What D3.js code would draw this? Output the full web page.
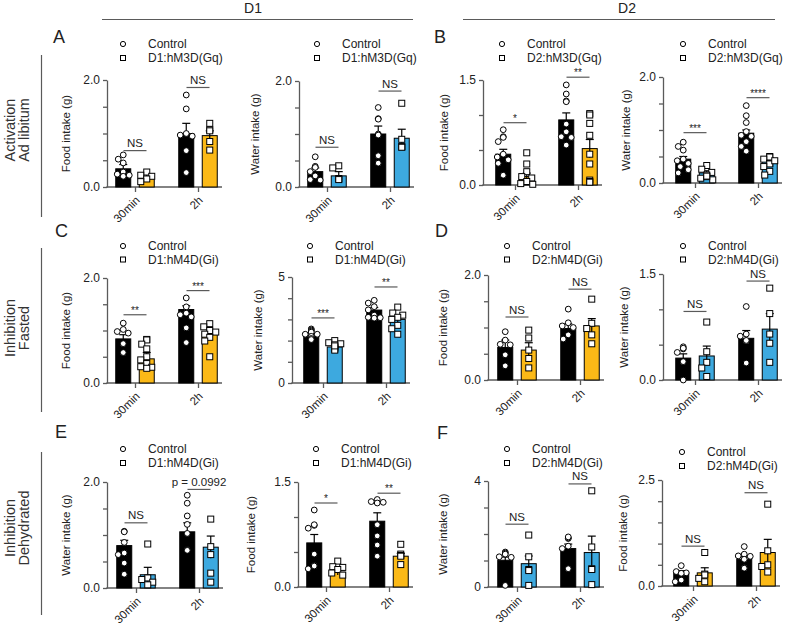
<!DOCTYPE html>
<html><head><meta charset="utf-8">
<script src="https://cdn.jsdelivr.net/npm/d3@7"></script>
<style>body{margin:0;background:#fff}svg{display:block;font-family:"Liberation Sans",Arial,Helvetica,sans-serif}</style>
</head><body><svg id="fig" width="787" height="627"></svg>
<script>
// ---------------- DATA ----------------
const timepoints = ["30min", "2h"];
const panelLetters = ["A", "B", "C", "D", "E", "F"];
const columnHeaders = ["D1", "D2"];
const rowLabels = [["Activation", "Ad libitum"], ["Inhibition", "Fasted"], ["Inhibition", "Dehydrated"]];
const controlName = "Control";
const treatNames = ["D1:hM3D(Gq)", "D1:hM3D(Gq)", "D2:hM3D(Gq)", "D2:hM3D(Gq)",
                    "D1:hM4D(Gi)", "D1:hM4D(Gi)", "D2:hM4D(Gi)", "D2:hM4D(Gi)",
                    "D1:hM4D(Gi)", "D1:hM4D(Gi)", "D2:hM4D(Gi)", "D2:hM4D(Gi)"];
const yLabels = ["Food intake (g)", "Water intake (g)", "Food intake (g)", "Water intake (g)",
                 "Food intake (g)", "Water intake (g)", "Food intake (g)", "Water intake (g)",
                 "Water intake (g)", "Food intake (g)", "Water intake (g)", "Food intake (g)"];
const yMax = [2, 2, 1.5, 2, 2, 5, 2, 1.5, 2, 1.5, 4, 2.5];
const yTickStep = [0.5, 0.5, 0.5, 0.5, 0.5, 1, 0.5, 0.5, 0.5, 0.5, 1, 0.5];
// bar means: [control 30min, treated 30min, control 2h, treated 2h]
const means = [
  [0.34, 0.20, 1.00, 0.96], [0.29, 0.21, 1.00, 0.92], [0.44, 0.12, 0.93, 0.52], [0.45, 0.19, 0.94, 0.42],
  [0.84, 0.46, 1.40, 0.95], [2.26, 1.70, 3.44, 3.00], [0.62, 0.57, 0.98, 1.03], [0.31, 0.34, 0.59, 0.72],
  [0.80, 0.25, 1.06, 0.77], [0.63, 0.21, 0.94, 0.44], [1.01, 0.88, 1.45, 1.30], [0.31, 0.31, 0.63, 0.79]];
const sems = [
  [0.08, 0.04, 0.19, 0.09], [0.07, 0.08, 0.15, 0.17], [0.07, 0.05, 0.10, 0.13], [0.05, 0.04, 0.06, 0.06],
  [0.08, 0.12, 0.07, 0.07], [0.08, 0.07, 0.12, 0.15], [0.14, 0.14, 0.09, 0.14], [0.06, 0.14, 0.11, 0.22],
  [0.10, 0.14, 0.17, 0.21], [0.12, 0.04, 0.12, 0.04], [0.12, 0.29, 0.17, 0.62], [0.05, 0.12, 0.06, 0.31]];
// individual animals: [control 30min, treated 30min, control 2h, treated 2h]
const points = [
  [[0.60,0.52,0.45,0.28,0.22,0.20,0.24],[0.28,0.22,0.20,0.15,0.10],[1.72,1.46,1.00,0.97,0.95,0.68,0.27],[1.19,1.07,1.05,0.85,0.69]],
  [[0.57,0.39,0.37,0.29,0.21,0.13,0.14],[0.40,0.36,0.16,0.15,0.14],[1.50,1.29,1.28,1.00,0.98,0.59,0.45],[1.58,0.90,0.76,0.76,0.75]],
  [[0.79,0.69,0.68,0.62,0.44,0.40,0.36,0.31,0.14],[0.46,0.30,0.19,0.12,0.10,0.05,0.02,0.01],[1.43,1.30,1.20,1.19,0.87,0.76,0.69,0.68,0.57],[1.02,1.00,0.88,0.71,0.44,0.30,0.07,0.05,0.04]],
  [[0.77,0.69,0.62,0.45,0.42,0.37,0.31,0.25,0.19],[0.33,0.26,0.20,0.15,0.12,0.09,0.06,0.13],[1.46,1.27,1.14,0.97,0.90,0.88,0.78,0.69,0.60],[0.50,0.49,0.45,0.37,0.36,0.31,0.22,0.15,0.42]],
  [[1.14,1.02,0.98,0.95,0.75,0.57,0.58],[0.83,0.82,0.74,0.65,0.50,0.44,0.37,0.31,0.30,0.28],[1.62,1.45,1.33,1.30,1.26,1.05,0.77],[1.13,1.07,1.00,0.97,0.93,0.87,0.80,0.50]],
  [[2.55,2.50,2.45,2.40,2.30,2.20,2.10,2.05,2.30],[2.00,1.90,1.85,1.80,1.70,1.65,1.60,1.55,1.75],[3.90,3.77,3.60,3.45,3.20,3.08,3.10,3.06],[3.58,3.30,3.20,3.10,3.00,2.72,2.56,2.30]],
  [[0.92,0.76,0.68,0.67,0.48,0.27],[0.95,0.80,0.57,0.41,0.23],[1.35,1.09,1.03,1.00,0.86,0.78],[1.54,1.08,0.98,0.86,0.69]],
  [[0.47,0.44,0.45,0.39,0.26,0.00],[0.82,0.40,0.25,0.17,0.05],[1.04,0.65,0.62,0.55,0.56,0.24],[1.30,0.94,0.65,0.52,0.25]],
  [[1.07,1.06,0.86,0.66,0.63,0.47,0.26],[0.83,0.19,0.16,0.11,0.06],[1.75,1.60,1.36,1.20,1.03,0.73,0.72,0.71],[1.30,0.78,0.63,0.28,0.11]],
  [[1.10,0.88,0.89,0.84,0.47,0.31,0.30,0.26],[0.37,0.29,0.28,0.25,0.20,0.17],[1.25,1.22,1.21,1.20,0.89,0.73,0.60,0.44],[0.61,0.47,0.45,0.44,0.32]],
  [[1.32,1.28,1.24,1.14,1.12,0.06],[1.96,1.14,0.66,0.62,0.06],[1.83,1.85,1.89,1.54,1.45,0.69],[3.63,1.51,0.69,0.66,0.09]],
  [[0.48,0.34,0.31,0.30,0.14,0.10],[0.79,0.28,0.26,0.18,0.10],[0.93,0.75,0.71,0.70,0.63,0.43,0.42],[1.93,0.83,0.50,0.46,0.33]]];
const sigLabels = [["NS","NS"],["NS","NS"],["*","**"],["***","****"],
                   ["**","***"],["***","**"],["NS","NS"],["NS","NS"],
                   ["NS","p = 0.0992"],["*","**"],["NS","NS"],["NS","NS"]];
const treatColorKey = ["yellow","blue","yellow","blue","yellow","blue","yellow","blue","blue","yellow","blue","yellow"];

// ---------------- LAYOUT ----------------
const colors = {yellow: "#FBB917", blue: "#3DA9DF"};
const axisX = [107, 299, 483, 663, 107, 292, 488, 663, 107, 298, 488, 662];
const group1X = [135, 327, 515, 695, 135, 323, 517, 695, 136, 326, 517, 693];
const yTopPx = [80, 81, 80, 77, 278, 277, 275, 274, 482, 482, 481, 480];
const yBotPx = [187, 187, 185, 183, 383, 383, 380, 380, 588, 587, 587, 586];
const yLabelOff = [-37, -40, -35, -33, -37, -30, -41, -35, -37, -43, -41, -35];
const legendY = [[44, 58], [246, 259.5], [449, 463]];
const legSymOff = [16, 18, 19, 20], legTextOff = [41, 43, 44, 45];
const sigLevel = [[0.68,1.86],[0.75,1.81],[0.89,1.54],[0.95,1.61],
                  [1.30,1.76],[3.07,4.53],[1.20,1.73],[0.97,1.40],
                  [1.23,1.86],[1.20,1.34],[2.37,3.89],[0.94,2.20]];
const letterPos = [[53,43],[434,43],[55,237],[435,237],[55,438],[437,439]];
const groupStep = 63, barW = 15, barOff = 11.75;
const axisColor = "#5a5a5a", textColor = "#222";

const svg = d3.select("#fig");

// headers
[[253, 102, 413], [627, 463, 775]].forEach((h, k) => {
  svg.append("text").attr("x", h[0]).attr("y", 13).attr("text-anchor", "middle")
    .attr("font-size", 14).attr("fill", textColor).text(columnHeaders[k]);
  svg.append("line").attr("x1", h[1]).attr("x2", h[2]).attr("y1", 19.5).attr("y2", 19.5)
    .attr("stroke", axisColor).attr("stroke-width", 1.2);
});
// row labels and brackets
const rowSpan = [[55, 217, 130], [248, 412, 328], [452, 615, 528]];
rowLabels.forEach((lab, r) => {
  const [y1, y2, yc] = rowSpan[r];
  svg.append("line").attr("x1", 41.5).attr("x2", 41.5).attr("y1", y1).attr("y2", y2)
    .attr("stroke", axisColor).attr("stroke-width", 1.2);
  lab.forEach((t, k) => {
    svg.append("text").attr("transform", `translate(${15 + k * 14},${yc}) rotate(-90)`)
      .attr("text-anchor", "middle").attr("font-size", 14.5).attr("fill", "#333").text(t);
  });
});
panelLetters.forEach((L, k) => {
  svg.append("text").attr("x", letterPos[k][0]).attr("y", letterPos[k][1])
    .attr("font-size", 18).attr("fill", textColor).text(L);
});

function swarm(vals, yScale) {
  const cand = [0, -5, 5, -3, 3, -6, 6];
  const placed = [];
  const order = vals.map((v, i) => i).sort((a, b) => vals[b] - vals[a]);
  const off = new Array(vals.length).fill(0);
  order.forEach(i => {
    const py = yScale(vals[i]);
    let best = cand[0];
    for (const c of cand) {
      if (placed.every(p => Math.hypot(p[0] - c, p[1] - py) >= 6.2)) { best = c; break; }
    }
    off[i] = best; placed.push([best, py]);
  });
  return off;
}

for (let i = 0; i < 12; i++) {
  const row = Math.floor(i / 4), col = i % 4;
  const g = svg.append("g");
  const y = d3.scaleLinear().domain([0, yMax[i]]).range([yBotPx[i], yTopPx[i]]);
  const x = d3.scalePoint().domain(timepoints).range([group1X[i], group1X[i] + groupStep]);
  const isInt = yTickStep[i] >= 1;
  const fmt = isInt ? d3.format("d") : d3.format(".1f");
  const ticks = d3.range(0, yMax[i] + 1e-9, yTickStep[i]);
  const yAxis = d3.axisLeft(y).tickValues(ticks).tickSize(4).tickSizeOuter(0).tickPadding(3)
    .tickFormat(d => (d === 0 || Math.abs(d - yMax[i]) < 1e-9) ? fmt(d) : "");
  const ya = g.append("g").attr("transform", `translate(${axisX[i]},0)`).call(yAxis);
  ya.select(".domain").attr("stroke", axisColor).attr("stroke-width", 1.3);
  ya.selectAll(".tick line").attr("stroke", axisColor).attr("stroke-width", 1.3);
  ya.selectAll("text").attr("font-size", 12).attr("fill", textColor).attr("font-family", null);

  // x axis
  const xEnd = group1X[i] + groupStep + 24;
  g.append("line").attr("x1", axisX[i] - 0.65).attr("x2", xEnd).attr("y1", yBotPx[i]).attr("y2", yBotPx[i])
    .attr("stroke", axisColor).attr("stroke-width", 1.3);
  const xa = g.append("g").attr("transform", `translate(0,${yBotPx[i]})`)
    .call(d3.axisBottom(x).tickSize(5).tickSizeOuter(0));
  xa.select(".domain").remove();
  xa.selectAll(".tick line").attr("stroke", axisColor).attr("stroke-width", 1.3);
  xa.selectAll("text").attr("font-size", 11.5).attr("fill", textColor).attr("font-family", null)
    .attr("text-anchor", "end").attr("dy", null).attr("y", 0)
    .attr("transform", "translate(5,14) rotate(-45)");

  // y label
  g.append("text").attr("transform", `translate(${axisX[i] + yLabelOff[i]},${(yTopPx[i] + yBotPx[i]) / 2}) rotate(-90)`)
    .attr("text-anchor", "middle").attr("font-size", 11.5).attr("fill", textColor).text(yLabels[i]);

  // bars, errors, points
  const fillC = colors[treatColorKey[i]];
  timepoints.forEach((t, ti) => {
    [0, 1].forEach(k => {
      const idx = ti * 2 + k;
      const cx = x(t) + (k ? barOff : -barOff);
      const m = means[i][idx], s = sems[i][idx];
      g.append("rect").attr("x", cx - barW / 2).attr("y", y(m)).attr("width", barW).attr("height", y(0) - y(m))
        .attr("fill", k ? fillC : "#000").attr("stroke", "#000").attr("stroke-width", 1);
      g.append("line").attr("x1", cx).attr("x2", cx).attr("y1", y(Math.max(0, m - s))).attr("y2", y(m + s))
        .attr("stroke", "#000").attr("stroke-width", 1.2);
      g.append("line").attr("x1", cx - 4).attr("x2", cx + 4).attr("y1", y(m + s)).attr("y2", y(m + s))
        .attr("stroke", "#000").attr("stroke-width", 1.2);
      const vals = points[i][idx];
      const offs = swarm(vals, y);
      vals.forEach((v, j) => {
        const px = cx + offs[j], py = y(v);
        if (k === 0) {
          g.append("circle").attr("cx", px).attr("cy", py).attr("r", 2.9)
            .attr("fill", "#fff").attr("stroke", "#000").attr("stroke-width", 1);
        } else {
          g.append("rect").attr("x", px - 3).attr("y", py - 3).attr("width", 6).attr("height", 6)
            .attr("fill", "#fff").attr("stroke", "#000").attr("stroke-width", 1);
        }
      });
    });
    // significance
    const lv = y(sigLevel[i][ti]);
    g.append("line").attr("x1", x(t) - 11.5).attr("x2", x(t) + 11.5).attr("y1", lv).attr("y2", lv)
      .attr("stroke", axisColor).attr("stroke-width", 1.2);
    const lab = sigLabels[i][ti];
    const isStar = lab.startsWith("*");
    g.append("text").attr("x", x(t)).attr("y", isStar ? lv - 1 : lv - 3.5)
      .attr("text-anchor", "middle").attr("font-size", isStar ? 10 : 11.5).attr("fill", textColor).text(lab);
  });

  // legend
  const ly = legendY[row];
  const lyy = (i === 11) ? [ly[0] + 3, ly[1] + 3] : ly;
  g.append("circle").attr("cx", axisX[i] + legSymOff[col]).attr("cy", lyy[0]).attr("r", 2.6)
    .attr("fill", "#fff").attr("stroke", "#000").attr("stroke-width", 1);
  g.append("rect").attr("x", axisX[i] + legSymOff[col] - 2.5).attr("y", lyy[1] - 2.5).attr("width", 5).attr("height", 5)
    .attr("fill", "#fff").attr("stroke", "#000").attr("stroke-width", 1);
  g.append("text").attr("x", axisX[i] + legTextOff[col]).attr("y", lyy[0] + 4).attr("font-size", 12).attr("fill", textColor).text(controlName);
  g.append("text").attr("x", axisX[i] + legTextOff[col]).attr("y", lyy[1] + 4).attr("font-size", 12).attr("fill", textColor).text(treatNames[i]);
}
</script></body></html>
